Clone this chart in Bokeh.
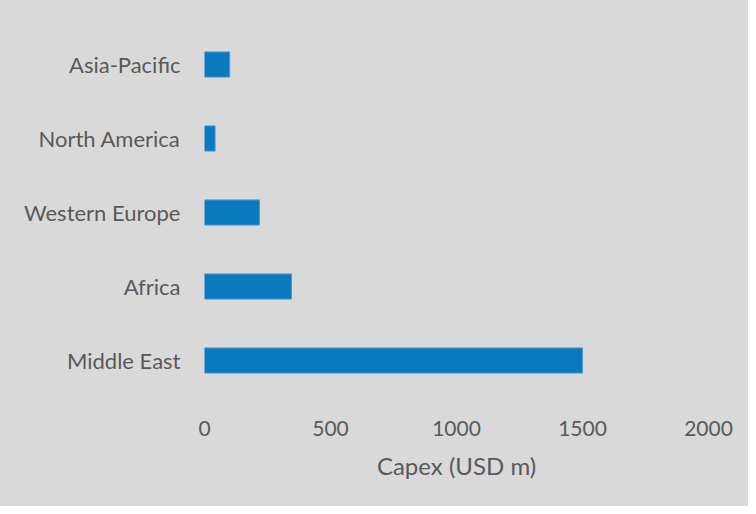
from bokeh.plotting import figure
from bokeh.models import Range1d, FactorRange, ColumnDataSource
from bokeh.embed import file_html
from bokeh.resources import INLINE

regions = ["Middle East", "Africa", "Western Europe", "North America", "Asia-Pacific"]
capex = [1500, 345, 218, 42, 100]
x_ticks = [0, 500, 1000, 1500, 2000]

src = ColumnDataSource(data=dict(region=regions, capex=capex))

p = figure(width=748, height=506, output_backend="svg", toolbar_location=None,
           x_range=Range1d(0, 2000), y_range=FactorRange(factors=regions),
           min_border_left=204, min_border_right=40, min_border_top=27, min_border_bottom=109)

p.hbar(y="region", right="capex", left=0, height=0.34, source=src,
       fill_color="#0b79bd", line_color="#4d9ad0", line_width=1)

bg = "#d9d9d9"
p.background_fill_color = None
p.border_fill_color = None
p.styles = {"background-color": bg}
p.outline_line_color = None
p.xgrid.grid_line_color = None
p.ygrid.grid_line_color = None

for ax in (p.xaxis, p.yaxis):
    ax.axis_line_color = None
    ax.major_tick_line_color = None
    ax.minor_tick_line_color = None
    ax.major_tick_out = 0
    ax.major_tick_in = 0
    ax.minor_tick_out = 0
    ax.major_label_text_font = "Lato"
    ax.major_label_text_color = "#595959"

p.yaxis.major_label_text_font_size = "22px"
p.xaxis.major_label_text_font_size = "21px"
p.xaxis.ticker = x_ticks
p.xaxis.major_label_standoff = 23
p.yaxis.major_label_standoff = 24
p.xaxis.axis_label = "Capex (USD m)"
p.xaxis.axis_label_text_font = "Lato"
p.xaxis.axis_label_text_font_style = "normal"
p.xaxis.axis_label_text_color = "#595959"
p.xaxis.axis_label_text_font_size = "24px"
p.xaxis.axis_label_standoff = 12

open("out.html", "w").write(file_html(p, INLINE))
